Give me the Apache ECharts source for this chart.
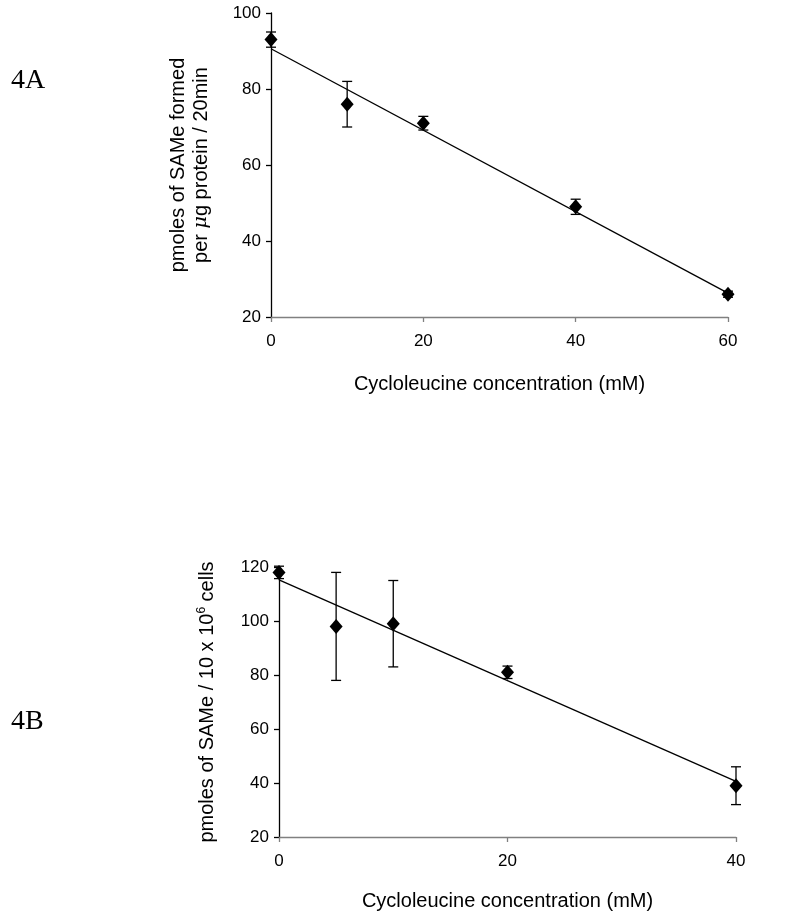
<!DOCTYPE html>
<html>
<head>
<meta charset="utf-8">
<script src="https://cdn.jsdelivr.net/npm/echarts@6/dist/echarts.min.js"></script>
<style>
  html, body { margin: 0; padding: 0; background: #fff; }
  #chart { width: 800px; height: 920px; }
</style>
</head>
<body>
<div id="chart"></div>
<script>
// panel A: enzyme assay
var concA = [0, 10, 20, 40, 60];
var sameA = [93, 76, 71, 49, 26];
var errA = [2, 6, 1.8, 2, 0.8];
var trendA = [[0, 90.6], [60, 26.3]];

// panel B: cells
var concB = [0, 5, 10, 20, 40];
var sameB = [118, 98, 99, 81, 39];
var errB = [2.3, 20, 16, 2.3, 7];
var trendB = [[0, 115.2], [40, 40.6]];

var xTicksA = [0, 20, 40, 60];
var xTicksB = [0, 20, 40];

var FONT = 'Liberation Sans, Arial, sans-serif';

function pairs(xs, ys) {
  return xs.map(function (x, i) { return [x, ys[i]]; });
}
function errData(xs, ys, es) {
  return xs.map(function (x, i) { return [x, ys[i] - es[i], ys[i] + es[i]]; });
}

function renderErr(params, api) {
  var lo = api.coord([api.value(0), api.value(1)]);
  var hi = api.coord([api.value(0), api.value(2)]);
  var w = 5;
  var st = { stroke: '#000', lineWidth: 1.3 };
  return {
    type: 'group',
    children: [
      { type: 'line', shape: { x1: lo[0], y1: lo[1], x2: hi[0], y2: hi[1] }, style: st },
      { type: 'line', shape: { x1: lo[0] - w, y1: lo[1], x2: lo[0] + w, y2: lo[1] }, style: st },
      { type: 'line', shape: { x1: hi[0] - w, y1: hi[1], x2: hi[0] + w, y2: hi[1] }, style: st }
    ]
  };
}

function xAxisOpt(gridIndex, max, nameGap) {
  return {
    type: 'value',
    gridIndex: gridIndex,
    min: 0,
    max: max,
    interval: 20,
    name: 'Cycloleucine concentration (mM)',
    nameLocation: 'middle',
    nameGap: nameGap,
    nameTextStyle: { fontFamily: FONT, fontSize: 20, color: '#000' },
    axisLine: { lineStyle: { color: '#808080', width: 1.3 } },
    axisTick: { show: true, length: 5, lineStyle: { color: '#808080', width: 1.3 } },
    axisLabel: {
      margin: 16,
      fontFamily: FONT,
      fontSize: 17,
      color: '#000',
      formatter: function (v) {
        var ticks = gridIndex === 0 ? xTicksA : xTicksB;
        return ticks.indexOf(v) >= 0 ? String(v) : '';
      }
    },
    splitLine: { show: false }
  };
}

function yAxisOpt(gridIndex, min, max, name, nameGap) {
  return {
    type: 'value',
    gridIndex: gridIndex,
    min: min,
    max: max,
    interval: 20,
    name: name,
    nameLocation: 'middle',
    nameGap: nameGap,
    nameRotate: 90,
    nameTextStyle: {
      fontFamily: FONT,
      fontSize: 20,
      lineHeight: 23,
      color: '#000',
      rich: {
        mu: { fontFamily: 'DejaVu Serif, serif', fontStyle: 'italic', fontSize: 19, color: '#000' },
        sup: { fontFamily: FONT, fontSize: 12, verticalAlign: 'top', lineHeight: 12, color: '#000' }
      }
    },
    axisLine: { show: true, lineStyle: { color: '#000', width: 1.3 } },
    axisTick: { show: true, length: 5, lineStyle: { color: '#000', width: 1.3 } },
    axisLabel: { margin: 10, fontFamily: FONT, fontSize: 17, color: '#000' },
    splitLine: { show: false }
  };
}

var chart = echarts.init(document.getElementById('chart'), null, { renderer: 'canvas' });

var option = {
  backgroundColor: '#fff',
  animation: false,
  title: [
    { text: '4A', left: 6, top: 62, textStyle: { fontFamily: 'Liberation Serif, Times New Roman, serif', fontSize: 28, fontWeight: 'normal', color: '#000' } },
    { text: '4B', left: 6, top: 703, textStyle: { fontFamily: 'Liberation Serif, Times New Roman, serif', fontSize: 28, fontWeight: 'normal', color: '#000' } }
  ],
  grid: [
    { left: 271, top: 13, width: 457, height: 304 },
    { left: 279, top: 567, width: 457, height: 270 }
  ],
  xAxis: [
    xAxisOpt(0, 60, 57),
    xAxisOpt(1, 40, 54)
  ],
  yAxis: [
    yAxisOpt(0, 20, 100, 'pmoles of SAMe formed\nper {mu|μ}g protein / 20min', 58),
    yAxisOpt(1, 20, 120, 'pmoles of SAMe / 10 x 10{sup|6} cells', 60)
  ],
  series: [
    {
      type: 'line', xAxisIndex: 0, yAxisIndex: 0, data: trendA,
      symbol: 'none', lineStyle: { color: '#000', width: 1.3 }, z: 2
    },
    {
      type: 'custom', xAxisIndex: 0, yAxisIndex: 0,
      data: errData(concA, sameA, errA), renderItem: renderErr, z: 3
    },
    {
      type: 'scatter', xAxisIndex: 0, yAxisIndex: 0, data: pairs(concA, sameA),
      symbol: 'diamond', symbolSize: [13, 15], itemStyle: { color: '#000', opacity: 1 }, z: 4
    },
    {
      type: 'line', xAxisIndex: 1, yAxisIndex: 1, data: trendB,
      symbol: 'none', lineStyle: { color: '#000', width: 1.3 }, z: 2
    },
    {
      type: 'custom', xAxisIndex: 1, yAxisIndex: 1,
      data: errData(concB, sameB, errB), renderItem: renderErr, z: 3
    },
    {
      type: 'scatter', xAxisIndex: 1, yAxisIndex: 1, data: pairs(concB, sameB),
      symbol: 'diamond', symbolSize: [13, 15], itemStyle: { color: '#000', opacity: 1 }, z: 4
    }
  ]
};

chart.setOption(option);
</script>
</body>
</html>
